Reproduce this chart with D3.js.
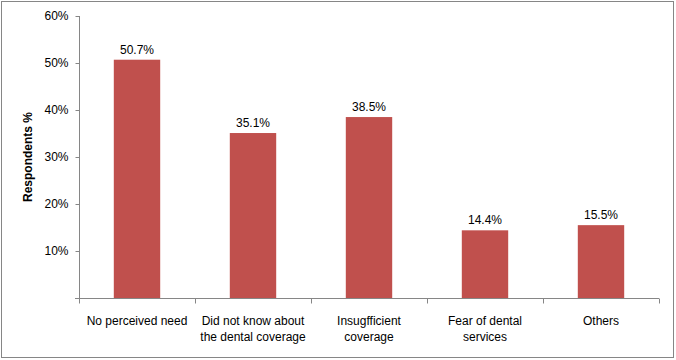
<!DOCTYPE html>
<html><head><meta charset="utf-8">
<script src="https://cdn.jsdelivr.net/npm/d3@7"></script>
<style>body{margin:0;background:#fff}svg{display:block}text{font-family:"Liberation Sans",Arial,sans-serif}</style>
</head><body>
<script>
const categories = [["No perceived need"],["Did not know about","the dental coverage"],["Insugfficient","coverage"],["Fear of dental","services"],["Others"]];
const values = [50.7, 35.1, 38.5, 14.4, 15.5];
const yTicks = [10, 20, 30, 40, 50, 60];
const yLabel = "Respondents %";

const W = 676, H = 360;
const svg = d3.select("body").append("svg").attr("width", W).attr("height", H);
svg.append("rect").attr("x",1.5).attr("y",1.5).attr("width",672).attr("height",356)
  .attr("fill","#fff").attr("stroke","#868686").attr("stroke-width",1);

const x = d3.scaleBand().domain(d3.range(values.length)).range([79, 659]).paddingInner(0.6).paddingOuter(0.3);
const xb = d3.scaleBand().domain(d3.range(values.length)).range([79, 659]);
const y = d3.scaleLinear().domain([0, 60]).range([298, 16]);

const axisColor = "#868686";
// y axis
const gy = svg.append("g").attr("transform","translate(79.5,0)")
  .call(d3.axisLeft(y).tickValues(yTicks).tickFormat(d => d + "%").tickSize(4).tickSizeOuter(0));
gy.select(".domain").attr("stroke", axisColor).attr("d", `M0,${y(60)}V${y(0)}`);
gy.selectAll(".tick line").attr("stroke", axisColor);
gy.selectAll(".tick text").attr("x", -11).attr("font-size", 12).attr("fill","#000").style("font-family","'Liberation Sans',Arial,sans-serif");
gy.selectAll(".tick").attr("transform", d => `translate(0,${Math.round(y(d))+0.5})`);

// x axis
const gx = svg.append("g").attr("transform","translate(0,298.5)");
gx.append("line").attr("x1",75).attr("x2",659).attr("stroke",axisColor);
const bounds = d3.range(values.length + 1).map(i => i < values.length ? xb(i) : xb(values.length-1) + xb.bandwidth());
gx.selectAll("line.t").data(bounds).join("line").attr("class","t")
  .attr("x1", d => Math.round(d)+0.5).attr("x2", d => Math.round(d)+0.5).attr("y1",0).attr("y2",5).attr("stroke",axisColor);

// bars
svg.selectAll("rect.bar").data(values).join("rect").attr("class","bar")
  .attr("x", (d,i) => x(i)).attr("width", x.bandwidth())
  .attr("y", d => y(d)).attr("height", d => y(0) - y(d)).attr("fill","#C0504D");

// value labels
svg.selectAll("text.val").data(values).join("text").attr("class","val")
  .attr("x", (d,i) => x(i) + x.bandwidth()/2).attr("y", d => y(d) - 6)
  .attr("text-anchor","middle").attr("font-size",12).attr("fill","#000")
  .text(d => d.toFixed(1) + "%");

// category labels
const cl = svg.selectAll("text.cat").data(categories).join("text").attr("class","cat")
  .attr("text-anchor","middle").attr("font-size",12).attr("fill","#000")
  .attr("transform", (d,i) => `translate(${xb(i) + xb.bandwidth()/2},325)`);
cl.selectAll("tspan").data(d => d).join("tspan").attr("x",0).attr("dy",(d,i) => i ? 16 : 0).text(d => d);

// y label
svg.append("text").attr("transform","translate(32,157) rotate(-90)")
  .attr("text-anchor","middle").attr("font-size",12).attr("font-weight","bold").attr("fill","#000")
  .text(yLabel);
</script>
</body></html>
